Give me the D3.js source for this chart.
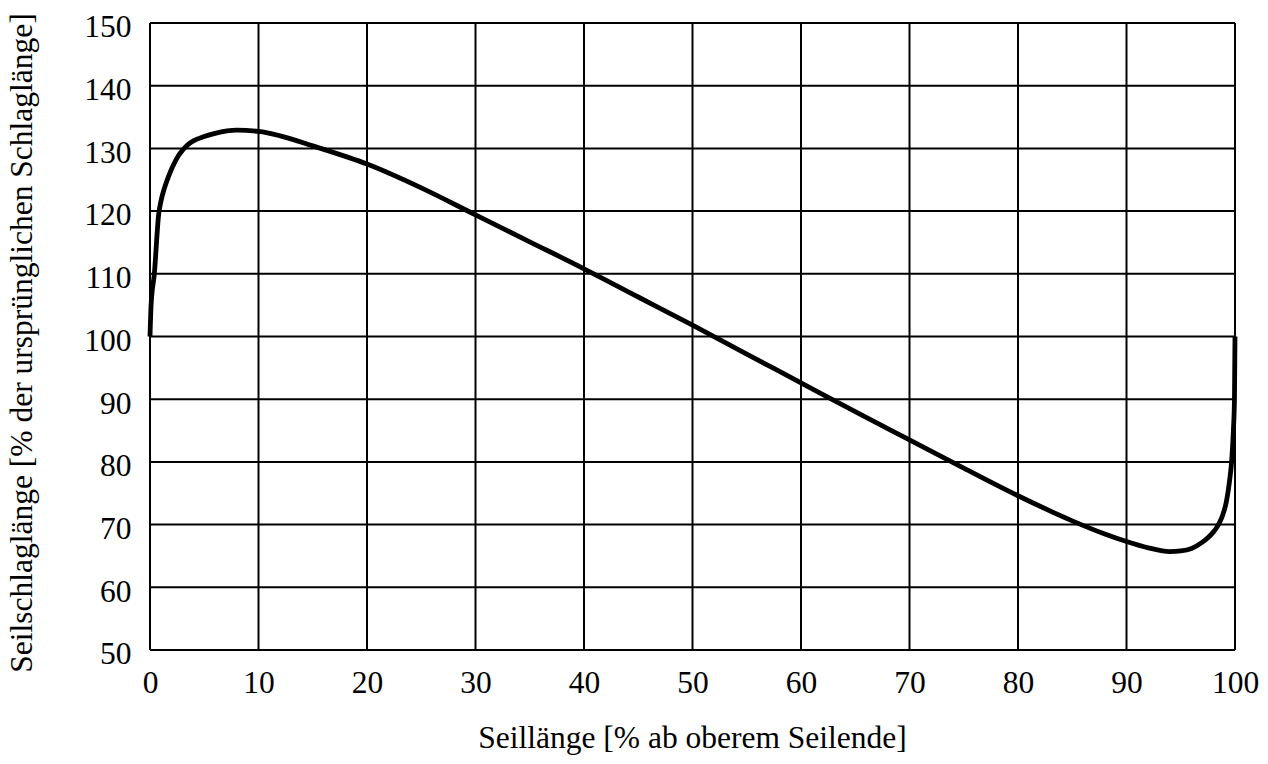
<!DOCTYPE html>
<html>
<head>
<meta charset="utf-8">
<script src="https://cdn.jsdelivr.net/npm/d3@7"></script>
<style>
  body { margin: 0; background: #fff; }
  svg text { font-family: "Liberation Serif", "DejaVu Serif", serif; fill: #000; }
</style>
</head>
<body>
<svg id="chart" width="1268" height="764"></svg>
<script>

// Seillänge [%] vs Seilschlaglänge [%]
var xValues = [0, 0.1, 0.4, 0.8, 1.0, 1.3, 1.7, 2.2, 2.6, 3, 3.5, 4, 5, 6, 8, 10, 12, 15, 20, 25, 30, 35, 40, 45,
               50, 55, 60, 65, 70, 75, 80, 85, 88, 90, 92, 94, 95, 96, 97, 97.5, 98, 98.3, 98.6, 98.9, 99.2, 99.5, 99.7, 99.85, 99.95, 100];
var yValues = [100, 105, 110, 119.5, 121.5, 123.5, 125.5, 127.5, 128.8, 129.7, 130.6, 131.2, 131.9, 132.4, 132.9, 132.7, 132.0, 130.4, 127.5, 123.7, 119.4, 115.1, 110.8, 106.3,
               101.8, 97.2, 92.6, 88.0, 83.5, 79.0, 74.6, 70.6, 68.5, 67.3, 66.3, 65.7, 65.8, 66.2, 67.2, 67.9, 68.8, 69.5, 70.4, 71.7, 73.6, 77, 80.3, 85, 90, 100];

var xTicks = [0, 10, 20, 30, 40, 50, 60, 70, 80, 90, 100];
var yTicks = [50, 60, 70, 80, 90, 100, 110, 120, 130, 140, 150];

var xTitle = "Seillänge [% ab oberem Seilende]";
var yTitle = "Seilschlaglänge [% der ursprünglichen Schlaglänge]";

var margin = {top: 23, right: 33, bottom: 114, left: 150};
var width = 1268 - margin.left - margin.right;
var height = 764 - margin.top - margin.bottom;
var fontSize = "31.5px";

var svg = d3.select("#chart");
var g = svg.append("g")
  .attr("transform", "translate(" + margin.left + "," + margin.top + ")");

var x = d3.scaleLinear().domain([0, 100]).range([0, width]);
var y = d3.scaleLinear().domain([50, 150]).range([height, 0]);

// grid
g.selectAll(".vgrid")
  .data(xTicks).enter()
  .append("line")
  .attr("x1", function(d) { return x(d); })
  .attr("x2", function(d) { return x(d); })
  .attr("y1", 0).attr("y2", height)
  .attr("stroke", "#000").attr("stroke-width", 2);

g.selectAll(".hgrid")
  .data(yTicks).enter()
  .append("line")
  .attr("y1", function(d) { return y(d); })
  .attr("y2", function(d) { return y(d); })
  .attr("x1", 0).attr("x2", width)
  .attr("stroke", "#000").attr("stroke-width", 2);

// axes (labels only)
var xAxis = g.append("g")
  .attr("transform", "translate(0," + height + ")")
  .call(d3.axisBottom(x).tickValues(xTicks).tickSize(0).tickPadding(20.5));
xAxis.select(".domain").remove();
xAxis.selectAll("text").style("font-size", fontSize);

var yAxis = g.append("g")
  .call(d3.axisLeft(y).tickValues(yTicks).tickSize(0).tickPadding(18.5));
yAxis.select(".domain").remove();
yAxis.selectAll("text").style("font-size", fontSize).attr("dy", "0.44em");

// curve
var line = d3.line()
  .x(function(d, i) { return x(xValues[i]); })
  .y(function(d, i) { return y(yValues[i]); })
  .curve(d3.curveMonotoneX);

g.append("path")
  .datum(xValues)
  .attr("d", line)
  .attr("fill", "none")
  .attr("stroke", "#000")
  .attr("stroke-width", 4.8);

// titles
g.append("text")
  .attr("x", width / 2)
  .attr("y", 748 - margin.top)
  .style("text-anchor", "middle")
  .style("font-size", fontSize)
  .text(xTitle);

g.append("text")
  .attr("transform", "rotate(-90)")
  .attr("x", -(343 - margin.top))
  .attr("y", 31.5 - margin.left)
  .style("text-anchor", "middle")
  .style("font-size", fontSize)
  .text(yTitle);

</script>
</body>
</html>
